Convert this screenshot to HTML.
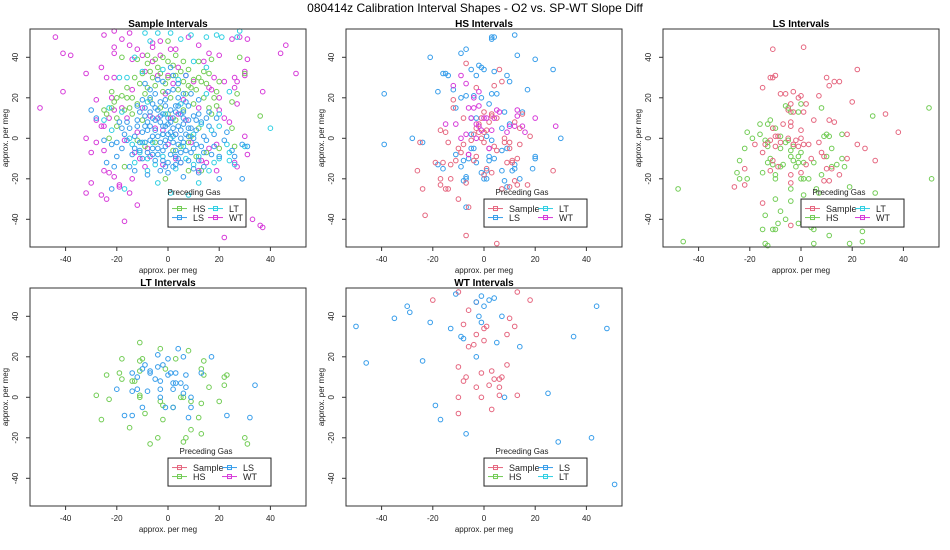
<!DOCTYPE html>
<html><head><meta charset="utf-8"><style>
body{margin:0;background:#fff;}
svg{display:block;font-family:"Liberation Sans",sans-serif;}
</style></head><body>
<svg id="chart" width="950" height="550" viewBox="0 0 950 550">
<text x="475" y="12" text-anchor="middle" font-size="12" fill="#000">080414z   Calibration Interval Shapes - O2 vs. SP-WT Slope Diff</text>
</svg>
<script>
const colors={Sample:'#E5667F',HS:'#72CC55',LS:'#379DEA',LT:'#2ECFE2',WT:'#D63AD9'};
const xTicks=[-40,-20,0,20,40];
const yTicks=[-40,-20,0,20,40];
const panelTitles=['Sample Intervals','HS Intervals','LS Intervals','LT Intervals','WT Intervals'];
const legendSets=[['HS','LT','LS','WT'],['Sample','LT','LS','WT'],['Sample','LT','HS','WT'],['Sample','LS','HS','WT'],['Sample','LS','HS','LT']];
const sampleHS=[[-18,40],[-12,39],[-8,41],[-5,39],[-2,40],[0,48],[3,41],[8,34],[12,38],[17,39],[28,40],[30,32],[27,22],[25,18],[25,5],[36,11],[16,32],[13,28],[10,29],[6,28],[0,30],[-3,32],[-7,33],[-10,32],[-13,30],[-16,25],[-18,21],[-20,20],[-22,23],[-21,18],[-22,15],[-25,14],[-24,12],[-20,10],[-17,14],[-14,20],[-11,27],[-8,25],[-5,26],[-2,23],[1,20],[4,24],[8,26],[11,24],[14,20],[16,15],[19,16],[19,23],[18,20],[-23,0],[-20,6],[-17,-14],[-12,-1],[-9,-4],[-5,-2],[-1,-20],[2,-6],[5,-4],[8,-2],[9,1],[11,-9],[15,-7],[20,-5],[26,-4],[8,-16],[13,-16],[-7,19],[-3,15],[0,12],[3,9],[6,14],[10,17],[-10,9],[-14,12],[12,5],[-6,30],[-1,27],[3,31],[7,22],[12,30],[15,27],[-9,22],[-4,35],[2,36],[5,33],[9,25],[-12,17],[-16,20],[14,33],[20,28],[-8,37],[0,38],[6,38],[-15,15],[17,12]];
const sampleLT=[[-4,52],[-9,52],[1,52],[9,51],[15,50],[19,51],[21,50],[28,53],[27,50],[-7,48],[5,49],[-13,40],[-10,33],[-16,30],[-19,30],[-23,15],[-18,13],[-25,9],[-22,4],[-14,-3],[-11,-7],[-13,-12],[-8,-10],[-8,-16],[-5,-13],[-2,-9],[3,-15],[7,-10],[10,-13],[12,-9],[16,-16],[18,-12],[20,-10],[23,-3],[24,-11],[26,-13],[30,-4],[40,5],[-6,-2],[-2,2],[2,1],[6,-4],[10,2],[13,7],[17,4],[20,6],[24,-7],[-4,-22],[1,-27],[12,-22],[-17,-25],[8,-28],[15,22],[20,12],[-2,34],[4,29],[10,38],[15,35],[24,23],[-8,18],[-1,12],[5,17],[-15,0],[-10,-2]];
const sampleLS=[[-30,14],[-28,10],[-22,-3],[-22,-25],[-24,-12],[-21,-14],[-20,-2],[-18,5],[-16,-1],[-15,-14],[-13,-16],[-13,-5],[-12,6],[-11,13],[-10,19],[-9,11],[-8,4],[-7,-1],[-6,-8],[-5,9],[-4,14],[-3,18],[-2,2],[-1,6],[0,10],[1,0],[2,5],[3,13],[4,-3],[5,-12],[6,7],[7,2],[8,16],[9,-7],[10,11],[11,4],[12,-11],[13,8],[14,1],[15,-1],[16,13],[18,-4],[19,10],[20,-9],[23,3],[25,-6],[26,-9],[29,-3],[31,-4],[29,-20],[20,-20],[12,-17],[6,-19],[0,-17],[-3,-16],[-8,-18],[-10,-10],[-4,-5],[1,-8],[6,-2],[-2,-11],[3,-13],[-6,1],[-9,-2],[-14,-8],[-17,2],[-19,8],[-7,13],[-1,16],[4,20],[9,22],[14,-14],[16,6],[11,-3],[-12,16],[-5,22],[2,24],[7,31],[1,35],[-4,29],[-9,27],[-2,6],[0,2],[3,-6],[5,0],[-3,-2],[2,10],[-5,4],[8,5],[4,-10],[-8,8],[10,-15],[-15,5],[-1,-4],[6,13],[-6,17],[12,12],[-11,-6],[14,-7],[18,2],[22,-1],[-20,-9],[-25,-1],[-3,8],[1,3],[4,6],[-6,-5],[7,-6],[-1,-1],[2,-2],[-4,1],[0,7],[5,4],[-7,6],[3,16],[-2,12],[8,9],[-9,15],[10,-5],[-10,3],[-8,-7],[-5,-11],[-3,11],[-1,19],[1,14],[3,2],[5,-7],[6,10],[7,18],[9,5],[11,9],[13,-4],[-12,9],[-11,-2],[-7,20],[-4,-8],[0,-12],[2,-14],[4,16],[6,22],[8,-11],[10,0],[-6,10],[-2,-6],[1,8],[3,-9],[-9,6],[-13,1],[-5,15],[0,23],[4,27],[-7,24],[12,19],[15,10],[17,-8],[-16,8],[-18,-5],[-2,28],[2,31],[8,1],[-1,-14],[5,12]];
const sampleWT=[[-44,50],[-41,42],[-38,41],[-41,23],[-50,15],[-32,32],[-26,35],[-25,51],[-21,53],[-21,45],[-21,42],[-24,30],[-21,30],[-18,49],[-15,52],[-15,46],[-12,44],[-14,39],[-28,19],[-22,20],[-21,14],[-26,6],[-25,6],[-28,9],[-23,10],[-18,15],[-16,10],[-32,0],[-30,-7],[-28,-2],[-25,-6],[-32,-27],[-30,-22],[-26,-28],[-24,-30],[-25,-16],[-23,-17],[-21,-19],[-19,-23],[-19,-24],[-17,-41],[-15,-27],[-12,-33],[-14,-20],[-13,-7],[-11,-10],[-9,-14],[-7,-9],[-2,-13],[3,-10],[5,-12],[12,-16],[13,-11],[15,-12],[19,-16],[26,-12],[27,-14],[22,-49],[36,-43],[37,-44],[33,-40],[46,46],[44,42],[50,32],[37,23],[31,39],[31,49],[25,49],[28,50],[30,33],[30,31],[26,30],[27,28],[26,25],[22,28],[20,20],[27,17],[30,1],[31,-8],[20,14],[22,10],[24,8],[18,30],[16,42],[20,41],[14,38],[16,25],[12,15],[17,24],[8,50],[12,46],[3,44],[1,44],[-3,41],[-3,48],[-6,47],[-6,45],[-10,41],[-9,33],[-6,38],[-4,31],[0,31],[4,35],[7,31],[-14,24],[-10,15],[-7,11],[-4,10],[1,10],[4,12],[7,9],[-5,5],[-2,4],[0,-3],[-8,-5],[3,2],[9,-2],[16,-5],[19,-3],[-17,-1],[-12,3],[6,19],[-1,22],[2,27],[10,28]];
const hsLS=[[-39,22],[-39,-3],[-28,0],[-24,-2],[-21,40],[-18,23],[-16,32],[-15,32],[-14,31],[-12,24],[-11,15],[-9,42],[-9,20],[-7,44],[-7,21],[-5,34],[-4,21],[-2,36],[-1,35],[0,34],[-3,31],[-1,20],[3,49],[3,50],[4,50],[12,51],[13,41],[20,39],[27,34],[4,33],[9,31],[10,28],[17,24],[3,22],[5,22],[2,17],[8,13],[15,13],[10,7],[7,5],[-18,-13],[-16,-15],[-11,-8],[-9,-14],[-8,-11],[-7,-19],[-7,-20],[-8,-21],[-5,-5],[-4,-5],[-6,-10],[-3,-12],[-1,-17],[0,-20],[1,-20],[1,-16],[2,-11],[4,-10],[2,-9],[7,-6],[7,-16],[8,-21],[9,-24],[12,-15],[12,-13],[11,-16],[14,-20],[19,-15],[20,-9],[20,-10],[30,0],[-7,-34],[3,-1],[1,1],[-5,2],[-3,10],[-5,10],[9,-5]];
const hsSample=[[-26,-16],[-25,-2],[-24,-25],[-23,-38],[-19,-12],[-17,4],[-17,-20],[-17,-23],[-16,-12],[-15,3],[-15,-25],[-14,-25],[-14,-2],[-13,-20],[-13,-13],[-12,15],[-12,19],[-11,-11],[-10,-30],[-10,-5],[-9,-7],[-8,10],[-8,-3],[-7,37],[-7,-22],[-7,-48],[-6,-34],[-6,-8],[-5,-1],[-4,-11],[-3,25],[-3,-9],[-3,5],[-2,7],[-1,10],[0,13],[0,3],[0,-2],[0,-18],[1,-15],[2,8],[2,-5],[3,-17],[3,11],[4,26],[4,-4],[5,-6],[5,-52],[6,34],[7,28],[7,-25],[8,-2],[8,0],[9,-12],[10,-2],[10,-5],[10,-24],[11,-11],[11,-12],[12,-21],[12,8],[13,-10],[13,-23],[14,5],[14,-3],[15,12],[17,-23],[18,1],[27,-16],[-1,0],[-2,3],[1,4],[-4,2],[5,10],[3,12]];
const hsWT=[[-12,26],[-9,31],[-7,27],[-4,20],[-4,15],[-2,23],[-6,15],[-5,10],[-15,7],[-11,7],[-9,0],[-7,2],[-3,7],[-2,6],[-1,4],[0,10],[1,10],[-2,16],[3,4],[4,10],[5,14],[9,3],[10,6],[13,11],[12,6],[13,14],[15,6],[16,3],[20,10],[28,6],[-3,0],[-6,-8],[2,-5],[6,13]];
const lsSample=[[-11,44],[1,45],[22,34],[-11,30],[-10,31],[-12,30],[10,30],[13,28],[15,28],[11,26],[-15,25],[-3,23],[-8,22],[-6,22],[0,21],[-1,20],[7,21],[20,18],[2,17],[-4,17],[-5,14],[1,13],[33,12],[-3,13],[5,9],[11,9],[13,8],[-7,7],[-4,8],[-4,6],[0,4],[38,3],[18,2],[-9,1],[-11,5],[-10,1],[-12,-1],[-8,-2],[-5,0],[-2,-1],[-3,-3],[0,0],[1,-3],[-1,-4],[3,-3],[7,-2],[22,-3],[25,-5],[-18,-3],[-15,-7],[-14,-3],[-10,-4],[-11,-11],[-12,-16],[-9,-14],[-4,-18],[-4,-22],[0,-17],[2,-13],[4,-10],[8,-7],[9,-9],[10,-15],[12,-15],[11,-21],[9,-21],[15,-18],[18,-10],[29,-11],[-22,-15],[-22,-23],[-26,-24],[-15,-32],[-4,-43]];
const lsHS=[[-48,-25],[-46,-51],[-24,-11],[-25,-17],[-24,-20],[-21,-20],[-22,-5],[-21,3],[-19,0],[-16,7],[-16,2],[-14,-1],[-13,-2],[-13,-4],[-12,-10],[-13,-12],[-12,9],[-11,5],[-10,5],[-13,7],[-11,-13],[-10,-18],[-10,-20],[-8,-14],[-7,-13],[-8,1],[-6,16],[-5,15],[-4,13],[-5,-1],[-4,-6],[-4,-9],[-3,-11],[-2,-14],[-1,-12],[-3,-4],[-1,-9],[0,-7],[1,-12],[0,-20],[1,-20],[1,-28],[-1,13],[0,17],[8,15],[9,1],[10,2],[11,1],[12,-5],[10,-9],[12,-14],[-15,-17],[-14,-38],[-15,-45],[-14,-52],[-13,-53],[-11,-45],[-10,-45],[-9,-42],[-8,-36],[-6,-40],[-10,-30],[-4,-25],[-4,-31],[-1,-42],[3,-42],[4,-44],[5,-45],[5,-52],[11,-48],[19,-52],[24,-51],[24,-46],[19,-24],[14,-13],[16,-10],[16,2],[17,-14],[29,-27],[28,11],[50,15],[51,-20],[8,-18],[6,-25],[3,-20],[5,-12],[7,-27],[-8,-5],[-6,-2]];
const ltHS=[[-28,1],[-26,-11],[-23,-1],[-24,11],[-18,19],[-19,12],[-18,9],[-15,-15],[-13,8],[-11,27],[-11,18],[-10,19],[-11,13],[-11,1],[-11,0],[-9,-8],[-7,-23],[-4,-20],[-3,-2],[-2,-4],[-2,-11],[-1,14],[-3,24],[2,-5],[3,19],[5,0],[6,0],[6,-22],[7,-20],[8,23],[9,-16],[9,-2],[12,-10],[13,-18],[13,-3],[13,14],[14,18],[14,11],[16,5],[20,-2],[22,10],[22,6],[23,11],[30,-20],[31,-23],[-14,8]];
const ltLS=[[-20,4],[-17,-9],[-14,3],[-14,12],[-14,-9],[-12,4],[-12,10],[-10,14],[-9,16],[-10,-5],[-8,3],[-7,13],[-7,12],[-5,9],[-4,15],[-4,21],[-3,4],[-3,8],[-3,0],[-2,16],[-1,-5],[0,19],[0,11],[1,12],[2,7],[2,-5],[2,4],[3,7],[3,12],[4,24],[5,7],[6,20],[6,2],[7,11],[7,5],[8,-10],[9,-5],[9,0],[13,12],[17,20],[23,-9],[32,-10],[34,6]];
const wtSample=[[-20,48],[-10,52],[-3,47],[13,52],[18,48],[-6,43],[10,39],[-8,36],[1,35],[12,35],[-3,31],[9,31],[0,34],[0,28],[-4,26],[-6,25],[-10,15],[-7,10],[-8,8],[-1,12],[3,13],[9,16],[4,9],[6,9],[7,10],[2,6],[-3,5],[6,5],[6,1],[13,1],[-10,0],[-1,0],[-10,-8],[3,-6]];
const wtLS=[[-50,35],[-46,17],[-35,39],[-30,45],[-29,42],[-21,37],[-24,18],[-13,34],[-11,51],[-9,30],[-8,29],[-3,47],[-1,50],[0,45],[2,48],[4,49],[-2,40],[-1,37],[7,40],[5,27],[14,25],[-3,20],[35,30],[44,45],[48,34],[25,2],[8,0],[-19,-4],[-17,-11],[-7,-18],[29,-22],[42,-20],[51,-43]];
const panelSeries=[
 [['WT',sampleWT],['HS',sampleHS],['LT',sampleLT],['LS',sampleLS]],
 [['LS',hsLS],['Sample',hsSample],['WT',hsWT]],
 [['HS',lsHS],['Sample',lsSample]],
 [['HS',ltHS],['LS',ltLS]],
 [['Sample',wtSample],['LS',wtLS]]
];
const panelPos=[[0,0],[316,0],[633,0],[0,259],[316,259]];

const NS='http://www.w3.org/2000/svg';
const svg=document.getElementById('chart');
function mk(tag,attrs,parent){const e=document.createElementNS(NS,tag);for(const k in attrs)e.setAttribute(k,attrs[k]);(parent||svg).appendChild(e);return e;}

panelSeries.forEach((series,pi)=>{
 const ox=panelPos[pi][0], oy=panelPos[pi][1];
 const xs=v=>ox+168+2.56*v;
 const ys=v=>oy+138.3-2.025*v;
 const g=mk('g',{});
 
 
 const t=mk('text',{x:ox+168,y:oy+27,'text-anchor':'middle','font-size':'10','font-weight':'bold'},g);
 t.textContent=panelTitles[pi];
 
 
 series.forEach(([name,pts])=>{
  const sg=mk('g',{fill:'none',stroke:colors[name],'stroke-width':'1'},g);
  
  
  pts.forEach(p=>{
   const c=mk('circle',{cx:xs(p[0]).toFixed(1),cy:ys(p[1]).toFixed(1),r:'2.3'},sg);
   
   
  });
 });
 const b=mk('rect',{x:ox+30,y:oy+29,width:276,height:218,fill:'none',stroke:'#333','stroke-width':'1'},g);
 
 
 xTicks.forEach(v=>{
  const l=mk('line',{x1:xs(v),x2:xs(v),y1:oy+247,y2:oy+251,stroke:'#333'},g);
  
  
  const tx=mk('text',{x:xs(v),y:oy+262,'text-anchor':'middle','font-size':'8','fill':'#222'},g);
  tx.textContent=v;
  
  
 });
 yTicks.forEach(v=>{
  const l=mk('line',{x1:ox+26,x2:ox+30,y1:ys(v),y2:ys(v),stroke:'#333'},g);
  
  
  const tx=mk('text',{x:0,y:0,'text-anchor':'middle','font-size':'8','fill':'#222',transform:`translate(${ox+18},${ys(v)}) rotate(-90)`},g);
  tx.textContent=v;
  
  
 });
 const xl=mk('text',{x:ox+168,y:oy+273,'text-anchor':'middle','font-size':'8','fill':'#222'},g);
 xl.textContent='approx. per meg';
 
 
 const yl=mk('text',{x:0,y:0,'text-anchor':'middle','font-size':'8','fill':'#222',transform:`translate(${ox+8},${oy+138}) rotate(-90)`},g);
 yl.textContent='approx. per meg';
 
 
 const labels=legendSets[pi];
 const lx=xs(0), ly=ys(-30);
 const wide=labels[0]==='Sample';
 const lw=wide?103:78, col2=wide?50:36;
 const lg=mk('g',{},g);
 
 
 const lt=mk('text',{x:lx+(wide?38:26),y:ly-4,'text-anchor':'middle','font-size':'8','fill':'#222'},lg);
 lt.textContent='Preceding Gas';
 
 
 mk('rect',{x:lx,y:ly,width:lw,height:28,fill:'#fff',stroke:'#222','stroke-width':'1'},lg);
 labels.forEach((nm,i)=>{
  const cx=lx+4+(i%2?col2:0), cy=ly+9.5+(i>=2?9:0);
  const eg=mk('g',{},lg);
  
  
  mk('line',{x1:cx,x2:cx+15,y1:cy,y2:cy,stroke:colors[nm],'stroke-width':'1'},eg);
  mk('rect',{x:cx+5.5,y:cy-2,width:4,height:4,fill:'none',stroke:colors[nm]},eg);
  const et=mk('text',{x:cx+21,y:cy+3.5,'font-size':'9','fill':'#222'},eg);
  et.textContent=nm;
 });
});
</script>
</body></html>
